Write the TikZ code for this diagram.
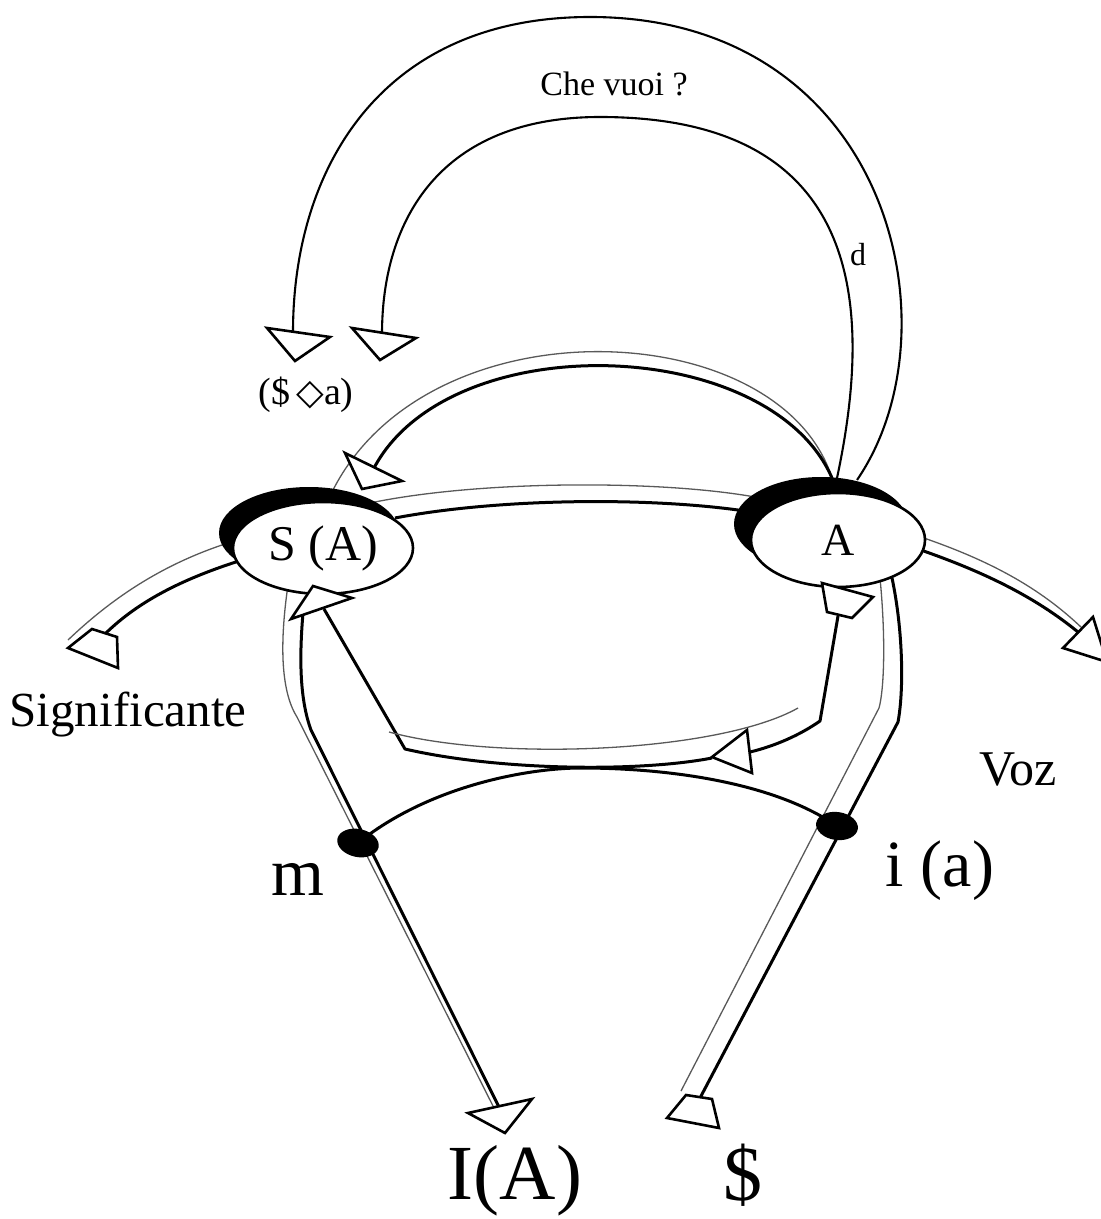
\documentclass[tikz,border=0pt]{standalone}
\usepackage{fontspec}
\setmainfont{Liberation Serif}
\newfontfamily\symfnt{DejaVu Sans}
\usetikzlibrary{shapes.geometric}
\begin{document}
\begin{tikzpicture}[x=0.5pt,y=-0.5pt,
  thinl/.style={line width=0.65pt, black!65},
  thickl/.style={line width=1.5pt, black, line join=round},
  arcl/.style={line width=1.05pt, black},
  headshape/.style={draw, line width=1.3pt, fill=white, line join=miter},
  shadow/.style={ellipse, fill=black, inner sep=0pt},
  bubble/.style={ellipse, draw, line width=1.3pt, fill=white, inner sep=0pt},
  dotshape/.style={ellipse, fill=black, inner sep=0pt, minimum width=21pt, minimum height=14pt},
  lbl/.style={inner sep=0pt, anchor=base}]
\useasboundingbox (0,0) rectangle (1101,1219);

% ---------- named points ----------
\coordinate (cvOa) at (857,480);  \coordinate (cvOt) at (590,17);  \coordinate (cvOb) at (293,332);
\coordinate (cvIa) at (837,478);  \coordinate (cvIt) at (600,117); \coordinate (cvIb) at (382,334);
\coordinate (topTa) at (832,478); \coordinate (topTb) at (333,490);
\coordinate (topKa) at (832,478); \coordinate (topKb) at (374,468);
\coordinate (sigT) at (68,640);   \coordinate (sigTe) at (228,543);
\coordinate (sigK) at (106,633);  \coordinate (sigKe) at (242,560);
\coordinate (midTa) at (370,503); \coordinate (midTb) at (755,497);
\coordinate (midKa) at (395,518); \coordinate (midKb) at (745,511);
\coordinate (vozTa) at (915,535); \coordinate (vozTb) at (1082,628);
\coordinate (vozKa) at (915,548); \coordinate (vozKb) at (1078,632);
\coordinate (lTa) at (288,585);   \coordinate (lTm) at (297,717); \coordinate (lTb) at (493,1106);
\coordinate (lKa) at (303,613);   \coordinate (lKm) at (311,730); \coordinate (lKb) at (499,1107);
\coordinate (rTa) at (880,578);   \coordinate (rTm) at (879,708); \coordinate (rTb) at (681,1091);
\coordinate (rKa) at (892,578);   \coordinate (rKm) at (898,722); \coordinate (rKb) at (700,1098);
\coordinate (retA) at (838,616);  \coordinate (retC) at (820,721); \coordinate (retB) at (750,752);
\coordinate (retTip) at (712,758); \coordinate (retL) at (405,749); \coordinate (retS) at (324,609);
\coordinate (retTa) at (798,708); \coordinate (retTb) at (389,732);
\coordinate (mP) at (358,843);    \coordinate (iP) at (837,826); \coordinate (arcMid) at (581,768);

% ---------- Che vuoi arcs ----------
\draw[arcl] (cvOa) .. controls (960,330) and (890,17) .. (cvOt)
            .. controls (380,17) and (293,170) .. (cvOb);
\draw[arcl] (cvIa) .. controls (875,300) and (860,117) .. (cvIt)
            .. controls (440,117) and (382,220) .. (cvIb);

% ---------- ribbons ----------
% upper return A -> S(A)
\draw[thinl]  (topTa) .. controls (780,315) and (430,300) .. (topTb);
\draw[thickl] (topKa) .. controls (770,335) and (450,325) .. (topKb);
% significante
\draw[thinl]  (sigT) .. controls (110,600) and (160,565) .. (sigTe);
\draw[thickl] (sigK) .. controls (140,600) and (185,578) .. (sigKe);
% between the two bubbles
\draw[thinl]  (midTa) .. controls (480,480) and (660,480) .. (midTb);
\draw[thickl] (midKa) .. controls (500,498) and (650,497) .. (midKb);
% voz
\draw[thinl]  (vozTa) .. controls (990,560) and (1040,588) .. (vozTb);
\draw[thickl] (vozKa) .. controls (985,572) and (1035,597) .. (vozKb);
% left descending
\draw[thinl]  (lTa) .. controls (280,640) and (280,690) .. (lTm) -- (lTb);
\draw[thickl] (lKa) .. controls (299,660) and (300,700) .. (lKm) -- (lKb);
% right descending
\draw[thinl]  (rTa) .. controls (886,640) and (884,690) .. (rTm) -- (rTb);
\draw[thickl] (rKa) .. controls (903,630) and (904,690) .. (rKm) -- (rKb);
% lower return loop
\draw[thickl] (retA) -- (retC) .. controls (800,735) and (775,746) .. (retB);
\draw[thickl] (retTip) .. controls (640,772) and (500,771) .. (retL) -- (retS);
\draw[thinl]  (retTa) .. controls (720,752) and (500,762) .. (retTb);
% arc m -- i(a)
\draw[thickl] (mP) .. controls (430,785) and (530,768) .. (arcMid)
              .. controls (660,768) and (770,780) .. (iP);

% ---------- bubbles ----------
\node[shadow, minimum width=90pt, minimum height=46pt] (SAsh) at (309,533) {};
\node[shadow, minimum width=87pt, minimum height=47pt] (Ash) at (821,524) {};
\node[bubble, minimum width=90pt, minimum height=46pt, font=\fontsize{25}{28}\selectfont] (SA) at (323,548) {S (A)};
\node[bubble, minimum width=87pt, minimum height=47pt, font=\fontsize{23}{26}\selectfont] (A) at (838,540) {A};

% ---------- arrow heads ----------
\draw[headshape] (267,328) -- (330,337) -- (295,361) -- cycle;
\draw[headshape] (352,328) -- (416,338) -- (380,360) -- cycle;
\draw[headshape] (345,453) -- (402,481) -- (362,489) -- cycle;
\draw[headshape] (68,648) -- (92,629) -- (117,637) -- (118,668) -- cycle;
\draw[headshape] (1063,648) -- (1093,617) -- (1107,662) -- cycle;
\draw[headshape] (291,619) -- (313,586) -- (352,598) -- cycle;
\draw[headshape] (822,583) -- (873,597) -- (852,618) -- (827,612) -- cycle;
\draw[headshape] (712,757) -- (747,730) -- (752,773) -- cycle;
\draw[headshape] (468,1113) -- (532,1099) -- (505,1133) -- cycle;
\draw[headshape] (667,1118) -- (686,1095) -- (712,1099) -- (719,1128) -- cycle;

% ---------- dots ----------
\node[dotshape, rotate=-12] (mdot) at (mP) {};
\node[dotshape, rotate=-8] (idot) at (iP) {};

% ---------- labels ----------
\node[lbl, font=\fontsize{17}{20}\selectfont] (cv) at (614,96) {Che vuoi ?};
\node[lbl, font=\fontsize{16}{19}\selectfont] (dl) at (858,266) {d};
\node[lbl, font=\fontsize{19}{22}\selectfont] (fant) at (306,404) {(\$\,{\symfnt\fontsize{18}{20}\selectfont ◇}a)};
\node[lbl, font=\fontsize{24.5}{28}\selectfont] (sig) at (128,726) {Significante};
\node[lbl, font=\fontsize{25}{28}\selectfont] (voz) at (1018,785) {Voz};
\node[lbl, font=\fontsize{34}{38}\selectfont] (ml) at (298,895) {m};
\node[lbl, font=\fontsize{33}{38}\selectfont] (il) at (940,886) {i (a)};
\node[lbl, font=\fontsize{39}{44}\selectfont] (IA) at (515,1199) {I(A)};
\node[lbl, font=\fontsize{39}{44}\selectfont] (bs) at (743,1200) {\$};
\end{tikzpicture}
\end{document}
